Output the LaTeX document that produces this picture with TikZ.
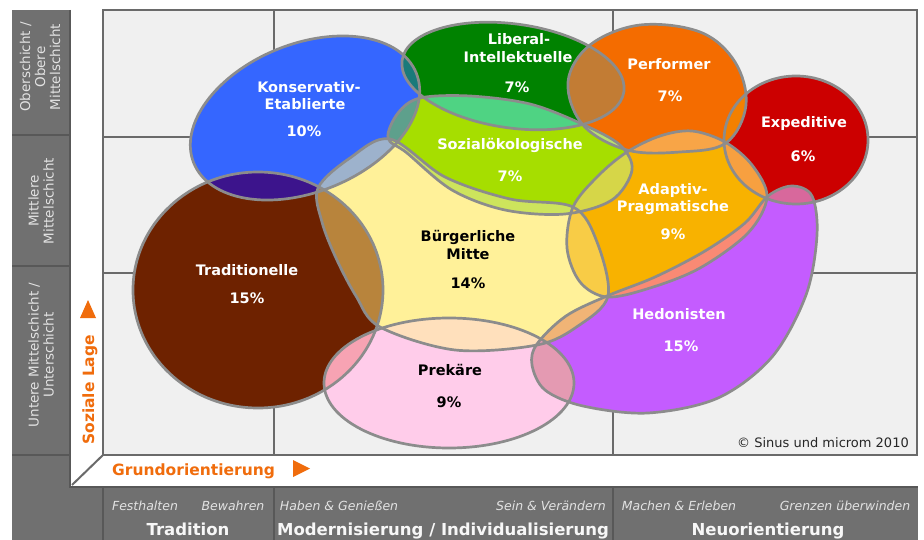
\documentclass[tikz,border=0pt]{standalone}
\usepackage{fontspec}
\setmainfont{DejaVu Sans}
\definecolor{colg}{HTML}{707070}
\definecolor{sepc}{HTML}{585858}
\definecolor{gridbg}{HTML}{F0F0F0}
\definecolor{gridc}{HTML}{6A6A6A}
\definecolor{olc}{HTML}{8C8C8C}
\definecolor{coltext}{HTML}{E2E2E2}
\definecolor{axor}{HTML}{F06C0C}
\definecolor{cK}{HTML}{3566FF}
\definecolor{cL}{HTML}{008200}
\definecolor{cP}{HTML}{F46C00}
\definecolor{cE}{HTML}{CC0000}
\definecolor{cS}{HTML}{A6DE00}
\definecolor{cA}{HTML}{F8B200}
\definecolor{cM}{HTML}{FFF199}
\definecolor{cT}{HTML}{6E2200}
\definecolor{cR}{HTML}{FFCCEA}
\definecolor{cH}{HTML}{C45CFF}
\definecolor{KT}{HTML}{3C148C}
\definecolor{KL}{HTML}{1A7A7A}
\definecolor{KS}{HTML}{5EA08C}
\definecolor{KM}{HTML}{9DB2CC}
\definecolor{LS}{HTML}{4FD383}
\definecolor{LP}{HTML}{C27C34}
\definecolor{SP}{HTML}{B8E070}
\definecolor{SM}{HTML}{CDE45C}
\definecolor{SA}{HTML}{D6D648}
\definecolor{PA}{HTML}{F8A547}
\definecolor{PE}{HTML}{F38000}
\definecolor{EA}{HTML}{F7A040}
\definecolor{EH}{HTML}{D8689C}
\definecolor{AM}{HTML}{F8CC46}
\definecolor{AH}{HTML}{F98A74}
\definecolor{MH}{HTML}{F0B476}
\definecolor{MR}{HTML}{FFE0BC}
\definecolor{MT}{HTML}{B8843C}
\definecolor{TR}{HTML}{F7A3B3}
\definecolor{RH}{HTML}{E49AB2}
\newcommand\mlens[5]{\begin{scope}\clip[#1]#2;\fill[#3,fill=#5]#4;\end{scope}}
\tikzset{
 outl/.style={draw=olc, line width=2.7pt},
 lab/.style={font=\fontsize{14.5}{17}\selectfont\bfseries, text=white, anchor=base, inner sep=0pt},
 labd/.style={lab, text=black},
 coltxt/.style={font=\fontsize{13.5}{15}\selectfont, text=coltext, align=center, rotate=90, inner sep=0pt},
 itxt/.style={font=\fontsize{12.5}{15}\selectfont\itshape, text=coltext, anchor=base, inner sep=0pt},
 btxt/.style={font=\fontsize{16.5}{19}\selectfont\bfseries, text=white!94!gray, anchor=base, inner sep=0pt},
 axtxt/.style={font=\fontsize{15.5}{18}\selectfont\bfseries, text=axor, inner sep=0pt},
 gridl/.style={draw=gridc, line width=2pt},
 sepl/.style={draw=sepc, line width=2pt},
 sK/.style={rotate around={22:(305,118)}},
 sL/.style={rotate around={-8:(513,76)}},
 sP/.style={},
 sE/.style={},
 sS/.style={},
 sA/.style={},
 sM/.style={},
 sT/.style={},
 sR/.style={},
 sH/.style={},
}
\def\pK{(305,118) ellipse [x radius=120, y radius=74]}
\def\pL{(513,76) ellipse [x radius=112, y radius=52]}
\def\pP{plot[smooth cycle,tension=0.6] coordinates {(568,82) (590,45) (640,25) (700,32) (735,62) (746,105) (726,143) (680,152) (627,150) (583,125)}}
\def\pE{(796,140) ellipse [x radius=72, y radius=64]}
\def\pS{plot[smooth cycle,tension=0.55] coordinates {(388,138) (398,113) (420,98) (470,96) (530,104) (582,124) (620,145) (632,170) (612,200) (565,214) (505,210) (452,190) (407,153)}}
\def\pA{plot[smooth cycle,tension=0.55] coordinates {(573,207) (598,176) (627,152) (660,136) (692,131) (725,142) (752,165) (767,197) (748,233) (700,268) (650,288) (607,297) (580,282) (567,248)}}
\def\pM{plot[smooth cycle,tension=0.55] coordinates {(318,188) (350,158) (390,139) (445,177) (510,199) (573,207) (597,242) (608,296) (578,326) (537,345) (455,350) (380,327) (356,296) (336,258) (322,222)}}
\def\pT{(258,290) ellipse [x radius=125, y radius=118]}
\def\pR{(449,383) ellipse [x radius=125, y radius=65]}
\def\pH{plot[smooth cycle,tension=0.55] coordinates {(537,344) (566,316) (607,296) (655,277) (705,251) (745,223) (768,196) (792,186) (812,196) (817,235) (806,295) (772,357) (718,398) (648,413) (583,406) (545,390) (532,365)}}
\begin{document}
\begin{tikzpicture}[x=1pt,y=-1pt]
\useasboundingbox (0,0) rectangle (924,540);
\fill[white] (0,0) rectangle (924,540);
% frame
\fill[colg] (12,10) rectangle (70,540);
\fill[colg] (70,487) rectangle (918,540);
\draw[sepl] (12,135)--(70,135) (12,266)--(70,266) (12,455)--(70,455);
\draw[sepl] (103,487)--(103,540) (274,487)--(274,540) (613,487)--(613,540);
\draw[sepl] (70,10)--(70,487)--(918,487);
\fill[gridbg] (103,10) rectangle (917,455);
\draw[gridl] (103,137)--(917,137) (103,273)--(917,273) (274,10)--(274,455) (613,10)--(613,455);
\draw[gridl] (103,10) rectangle (917,455);
\draw[gridl] (72,485)--(103,455);
% base shapes
\fill[sK,fill=cK] \pK;
\fill[sL,fill=cL] \pL;
\fill[sP,fill=cP] \pP;
\fill[sE,fill=cE] \pE;
\fill[sS,fill=cS] \pS;
\fill[sA,fill=cA] \pA;
\fill[sM,fill=cM] \pM;
\fill[sT,fill=cT] \pT;
\fill[sR,fill=cR] \pR;
\fill[sH,fill=cH] \pH;
% overlaps
\mlens{sK}{\pK}{sT}{\pT}{KT}
\mlens{sK}{\pK}{sL}{\pL}{KL}
\mlens{sK}{\pK}{sS}{\pS}{KS}
\mlens{sK}{\pK}{sM}{\pM}{KM}
\mlens{sL}{\pL}{sS}{\pS}{LS}
\mlens{sL}{\pL}{sP}{\pP}{LP}
\mlens{sS}{\pS}{sM}{\pM}{SM}
\mlens{sS}{\pS}{sP}{\pP}{SP}
\mlens{sS}{\pS}{sA}{\pA}{SA}
\mlens{sP}{\pP}{sA}{\pA}{PA}
\mlens{sP}{\pP}{sE}{\pE}{PE}
\mlens{sE}{\pE}{sA}{\pA}{EA}
\mlens{sE}{\pE}{sH}{\pH}{EH}
\mlens{sA}{\pA}{sM}{\pM}{AM}
\mlens{sA}{\pA}{sH}{\pH}{AH}
\mlens{sM}{\pM}{sH}{\pH}{MH}
\mlens{sM}{\pM}{sR}{\pR}{MR}
\mlens{sM}{\pM}{sT}{\pT}{MT}
\mlens{sT}{\pT}{sR}{\pR}{TR}
\mlens{sR}{\pR}{sH}{\pH}{RH}
% outlines
\draw[sK,outl] \pK;
\draw[sL,outl] \pL;
\draw[sP,outl] \pP;
\draw[sE,outl] \pE;
\draw[sS,outl] \pS;
\draw[sA,outl] \pA;
\draw[sM,outl] \pM;
\draw[sT,outl] \pT;
\draw[sR,outl] \pR;
\draw[sH,outl] \pH;
% labels
\node[lab] (k1) at (309,93) {Konservativ-};
\node[lab] (k2) at (305,110) {Etablierte};
\node[lab] (k3) at (304,137) {10\%};
\node[lab] (l1) at (519,45) {Liberal-};
\node[lab] (l2) at (518,63) {Intellektuelle};
\node[lab] (l3) at (517,93) {7\%};
\node[lab] (p1) at (669,70) {Performer};
\node[lab] (p2) at (670,102) {7\%};
\node[lab] (e1) at (804,128) {Expeditive};
\node[lab] (e2) at (803,162) {6\%};
\node[lab] (s1) at (510,150) {Sozialökologische};
\node[lab] (s2) at (510,182) {7\%};
\node[lab] (a1) at (673,195) {Adaptiv-};
\node[lab] (a2) at (673,212) {Pragmatische};
\node[lab] (a3) at (673,240) {9\%};
\node[labd] (m1) at (468,242) {Bürgerliche};
\node[labd] (m2) at (468,260) {Mitte};
\node[labd] (m3) at (468,288) {14\%};
\node[lab] (t1) at (247,276) {Traditionelle};
\node[lab] (t2) at (247,303) {15\%};
\node[labd] (r1) at (450,375) {Prekäre};
\node[labd] (r2) at (449,407) {9\%};
\node[lab] (h1) at (679,319) {Hedonisten};
\node[lab] (h2) at (681,351) {15\%};
\node[font=\fontsize{13}{15}\selectfont, text=black!85, anchor=base, inner sep=0pt] (cp) at (823,447) {© Sinus und microm 2010};
% column texts
\node[coltxt] (c1) at (40,67) {Oberschicht /\\Obere\\Mittelschicht};
\node[coltxt] (c2) at (41,201) {Mittlere\\Mittelschicht};
\node[coltxt] (c3) at (41,355) {Untere Mittelschicht /\\Unterschicht};
% axes
\node[axtxt, rotate=90, anchor=base west] (ys) at (94,445) {Soziale Lage};
\fill[axor] (80,318) -- (96,318) -- (88,300) -- cycle;
\node[axtxt, anchor=base west] (xs) at (112,475) {Grundorientierung};
\fill[axor] (293,460) -- (293,477) -- (310,468.5) -- cycle;
% bottom strip
\node[itxt] (b1) at (145,510) {Festhalten};
\node[itxt] (b2) at (233,510) {Bewahren};
\node[itxt] (b3) at (339,510) {Haben \& Genießen};
\node[itxt] (b4) at (551,510) {Sein \& Verändern};
\node[itxt] (b5) at (679,510) {Machen \& Erleben};
\node[itxt] (b6) at (845,510) {Grenzen überwinden};
\node[btxt] (g1) at (188,535) {Tradition};
\node[btxt] (g2) at (443,535) {Modernisierung / Individualisierung};
\node[btxt] (g3) at (768,535) {Neuorientierung};
\end{tikzpicture}
\end{document}
